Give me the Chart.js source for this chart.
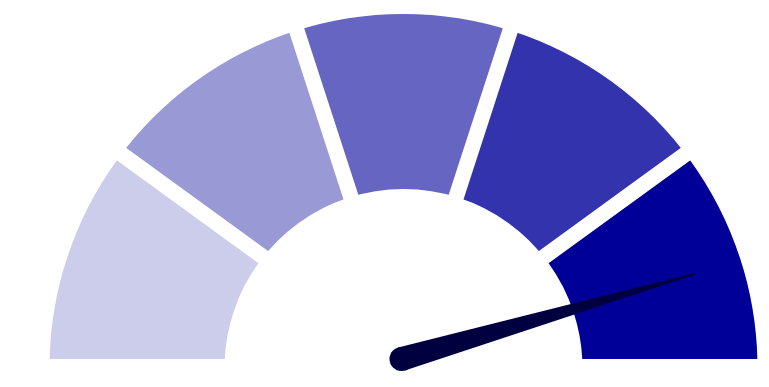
<!DOCTYPE html>
<html>
<head>
<meta charset="utf-8">
<script src="https://cdn.jsdelivr.net/npm/chart.js@4.4.0/dist/chart.umd.min.js"></script>
<style>
    html, body { margin: 0; padding: 0; background: #fff; }
    #wrap { width: 769px; height: 387px; }
</style>
</head>
<body>
<div id="wrap"><canvas id="gauge"></canvas></div>
<script>
// Gauge bands (equal fifths) and the needle reading
const bandLabels = ['Very low', 'Low', 'Medium', 'High', 'Very high'];
const bandSizes = [20, 20, 20, 20, 20];
const gaugeMin = 0;
const gaugeMax = 100;
const needleValue = 91;

const bandColors = ['#cccceb', '#9999d6', '#6666c2', '#3333ad', '#000099'];
const needleColor = '#000040';

// pivot of the dial sits a little above the ring centre
const PIVOT_DX = -2;
const PIVOT_DY = -9;
const GAP = 15.5;

const gaugePlugin = {
    id: 'gaugeDial',
    beforeDatasetsDraw(chart) {
        const arc = chart.getDatasetMeta(0).data[0];
        const c = chart.ctx;
        c.save();
        c.beginPath();
        c.rect(0, 0, chart.width, arc.y + PIVOT_DY);
        c.clip();
    },
    afterDatasetsDraw(chart) {
        const c = chart.ctx;
        c.restore();

        const arcs = chart.getDatasetMeta(0).data;
        const first = arcs[0];
        const last = arcs[arcs.length - 1];
        const ox = first.x, oy = first.y + PIVOT_DY;

        // white gaps between the bands
        c.save();
        c.strokeStyle = '#ffffff';
        c.lineWidth = GAP;
        c.lineCap = 'butt';
        arcs.slice(0, -1).forEach(a => {
            c.beginPath();
            c.moveTo(ox, oy);
            c.lineTo(ox + Math.cos(a.endAngle) * 420, oy + Math.sin(a.endAngle) * 420);
            c.stroke();
        });
        c.restore();

        // needle
        const frac = (needleValue - gaugeMin) / (gaugeMax - gaugeMin);
        const angle = first.startAngle + frac * (last.endAngle - first.startAngle);
        const px = first.x + PIVOT_DX;
        const py = oy;
        const len = 306;
        const baseHalf = 12;
        const tipHalf = 0.8;
        const cos = Math.cos(angle), sin = Math.sin(angle);
        const nx = -sin, ny = cos;
        const tx = px + cos * len, ty = py + sin * len;

        c.save();
        c.fillStyle = needleColor;
        c.beginPath();
        c.moveTo(px + nx * baseHalf, py + ny * baseHalf);
        c.lineTo(tx + nx * tipHalf, ty + ny * tipHalf);
        c.lineTo(tx - nx * tipHalf, ty - ny * tipHalf);
        c.lineTo(px - nx * baseHalf, py - ny * baseHalf);
        c.closePath();
        c.fill();
        c.beginPath();
        c.arc(px, py, baseHalf, 0, Math.PI * 2);
        c.fill();
        c.restore();
    }
};

new Chart(document.getElementById('gauge'), {
    type: 'doughnut',
    data: {
        labels: bandLabels,
        datasets: [{
            data: bandSizes,
            backgroundColor: bandColors,
            borderWidth: 0,
            hoverOffset: 0,
        }]
    },
    options: {
        responsive: true,
        maintainAspectRatio: false,
        animation: false,
        rotation: -90,
        circumference: 180,
        radius: 354,
        cutout: '50.56%',
        layout: { padding: { left: 38, right: 0, top: 0, bottom: 5 } },
        plugins: {
            legend: { display: false },
            tooltip: { enabled: false },
        }
    },
    plugins: [gaugePlugin]
});
</script>
</body>
</html>
